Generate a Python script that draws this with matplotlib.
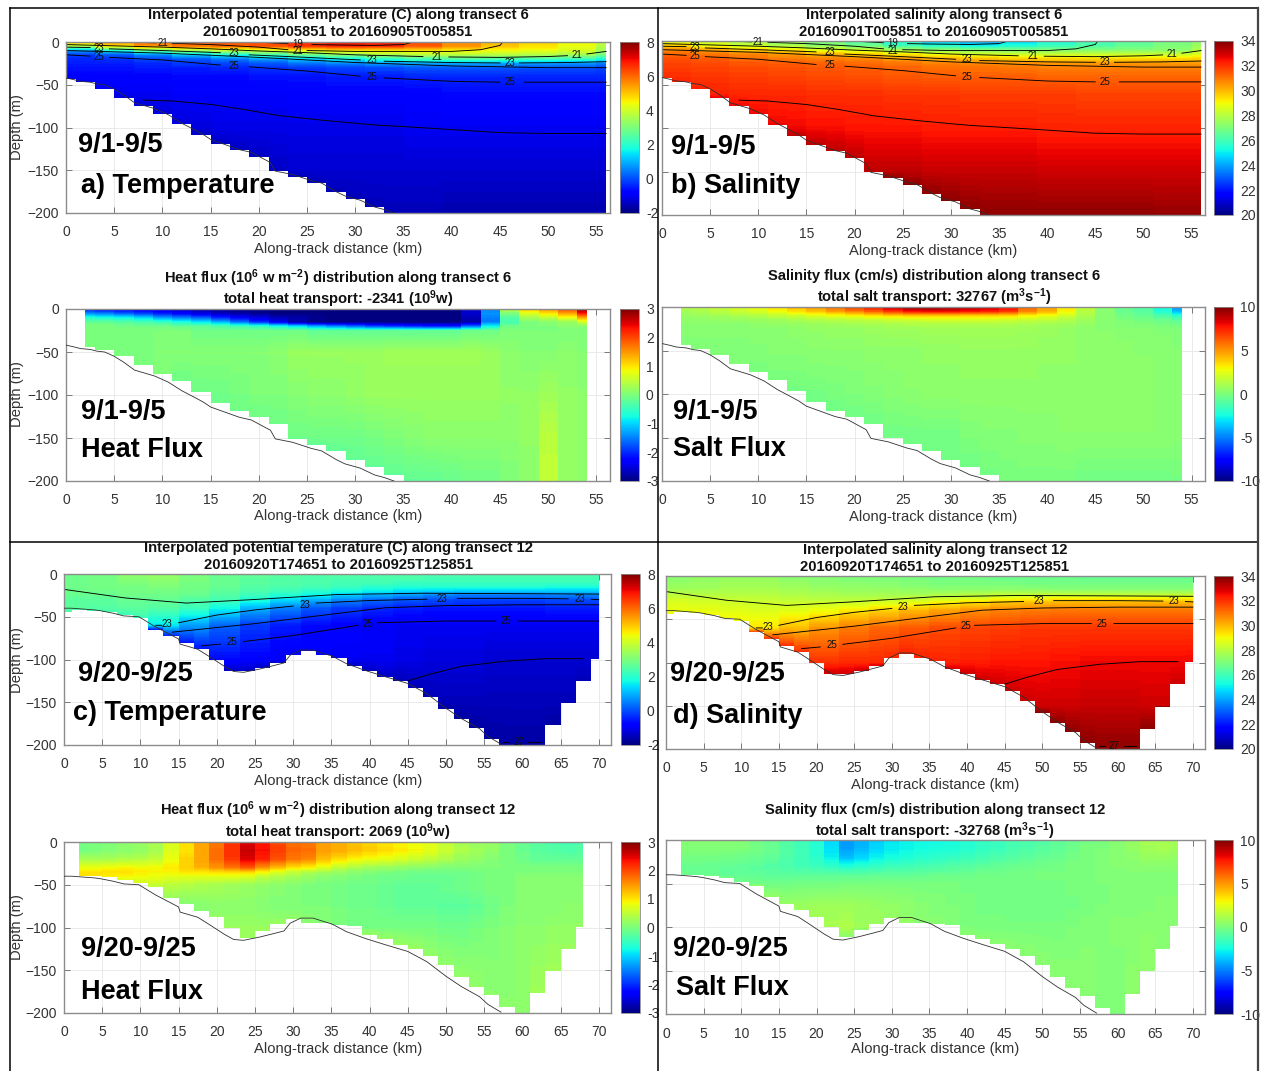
# -*- coding:utf-8 -*-
import numpy as np
import matplotlib
matplotlib.use('Agg')
import matplotlib.pyplot as plt
from matplotlib.lines import Line2D
from matplotlib.cm import ScalarMappable
from matplotlib.colors import Normalize

W, H = 1265, 1071
plt.rcParams['font.family'] = ['Liberation Sans', 'DejaVu Sans']
plt.rcParams['mathtext.default'] = 'regular'
nan = float('nan')

# 深度节点 (m)
z_ts = [0, 5, 10, 15, 20, 25, 30, 40, 60, 100, 150, 200]
z_hf6 = [0, 5, 10, 15, 20, 25, 50, 100, 150, 200]
z_hf12 = [0, 10, 20, 30, 35, 40, 50, 75, 100, 200]

# 各列底部深度
bottom_ts6 = [43, 47, 55, 65, 75, 84, 96, 109, 119, 126, 134, 151, 158, 165, 176, 184, 193,
              200, 200, 200, 200, 200, 200, 200, 200, 200, 200, 200, 200]
bottom_fx6 = [44, 48, 55, 65, 75, 84, 96, 109, 119, 126, 134, 151, 158, 165, 176, 184, 193,
              200, 200, 200, 200, 200, 200, 200, 200, 200, 200]
bottom_ts12 = [44, 42, 43, 45, 48, 52, 65, 73, 81, 88, 100, 113, 113, 110, 104, 95, 90, 95, 98,
               108, 113, 120, 125, 133, 144, 158, 170, 180, 193, 200, 200, 200, 177, 151, 125, 99]
bottom_fx12 = [40, 40, 41, 44, 48, 53, 65, 73, 81, 88, 100, 112, 104, 96, 90, 95, 95, 97, 98,
               109, 114, 120, 125, 133, 144, 158, 170, 179, 193, 200, 177, 151, 125, 99]

# 温度 transect 6, 每4 km一列
temp6 = [
    [5.2, 5.6, 6.0, 6.1, 6.2, 6.3, 6.6, 6.9, 6.9, 6.3, 5.6, 5.1, 4.8, 4.4, 3.8],
    [3.5, 4.6, 5.4, 5.8, 6.0, 6.2, 6.5, 6.7, 6.6, 6.1, 5.5, 5.0, 4.7, 4.3, 3.7],
    [0.8, 1.8, 2.8, 3.4, 3.8, 4.0, 4.4, 4.6, 4.6, 4.6, 4.5, 4.4, 4.3, 4.1, 3.4],
    [-0.2, 0.1, 0.6, 1.2, 1.8, 2.3, 2.8, 3.2, 3.5, 3.7, 3.7, 3.7, 3.6, 3.5, 2.9],
    [-0.4, -0.3, -0.1, 0.1, 0.4, 0.8, 1.2, 1.6, 2.0, 2.3, 2.5, 2.4, 2.3, 2.2, 1.8],
    [-0.5, -0.5, -0.4, -0.2, -0.1, 0.1, 0.4, 0.6, 0.8, 0.9, 0.9, 0.9, 0.8, 0.7, 0.5],
    [-0.6, -0.6, -0.5, -0.5, -0.4, -0.3, -0.2, -0.1, 0.0, 0.1, 0.1, 0.1, 0.0, 0.0, -0.1],
    [-0.8, -0.8, -0.8, -0.7, -0.7, -0.6, -0.6, -0.5, -0.5, -0.4, -0.4, -0.4, -0.4, -0.4, -0.4],
    [-1.0, -1.0, -1.0, -0.9, -0.9, -0.9, -0.8, -0.8, -0.8, -0.8, -0.7, -0.7, -0.7, -0.7, -0.7],
    [-1.2, -1.2, -1.2, -1.2, -1.1, -1.1, -1.1, -1.1, -1.1, -1.0, -1.0, -1.0, -1.0, -1.0, -1.0],
    [-1.4, -1.4, -1.4, -1.4, -1.4, -1.4, -1.3, -1.3, -1.3, -1.3, -1.3, -1.3, -1.3, -1.3, -1.3],
    [-1.5, -1.5, -1.5, -1.5, -1.5, -1.5, -1.5, -1.5, -1.5, -1.5, -1.6, -1.6, -1.6, -1.6, -1.6],
]
# 盐度 transect 6
salt6 = [
    [28.5, 28.2, 27.8, 27.4, 26.8, 26.3, 25.4, 24.2, 23.8, 24.6, 25.4, 26.0, 26.4, 26.8, 27.3],
    [29.5, 28.8, 28.2, 27.8, 27.2, 26.7, 25.9, 25.5, 25.0, 25.4, 25.8, 26.2, 26.6, 27.0, 27.5],
    [30.6, 30.2, 29.6, 29.2, 28.6, 28.2, 27.6, 27.2, 27.0, 26.9, 27.0, 27.0, 27.1, 27.2, 27.8],
    [31.2, 31.0, 30.7, 30.4, 30.0, 29.6, 29.2, 28.8, 28.5, 28.3, 28.2, 28.2, 28.2, 28.2, 28.6],
    [31.5, 31.3, 31.1, 30.9, 30.8, 30.6, 30.3, 30.0, 29.8, 29.6, 29.5, 29.4, 29.4, 29.4, 29.5],
    [31.7, 31.6, 31.4, 31.3, 31.2, 31.1, 30.9, 30.7, 30.6, 30.5, 30.4, 30.4, 30.4, 30.4, 30.4],
    [31.8, 31.7, 31.6, 31.5, 31.4, 31.3, 31.2, 31.1, 31.0, 30.9, 30.8, 30.8, 30.8, 30.8, 30.8],
    [32.0, 31.9, 31.8, 31.7, 31.6, 31.5, 31.4, 31.3, 31.3, 31.3, 31.2, 31.2, 31.2, 31.2, 31.2],
    [32.2, 32.2, 32.1, 32.1, 32.0, 32.0, 31.9, 31.9, 31.8, 31.8, 31.8, 31.7, 31.7, 31.7, 31.7],
    [32.6, 32.6, 32.6, 32.6, 32.5, 32.4, 32.4, 32.3, 32.3, 32.3, 32.2, 32.2, 32.2, 32.2, 32.2],
    [33.2, 33.2, 33.2, 33.2, 33.2, 33.2, 33.2, 33.1, 33.1, 33.1, 33.0, 33.0, 33.0, 33.0, 33.0],
    [33.8, 33.8, 33.8, 33.8, 33.8, 33.8, 33.8, 33.8, 33.8, 33.8, 33.8, 33.8, 33.8, 33.7, 33.7],
]
# 温度 transect 12
temp12 = [
    [2.8, 2.9, 3.2, 3.3, 3.0, 2.8, 2.7, 2.6, 2.5, 2.5, 2.4, 2.4, 2.4, 2.4, 2.4, 2.4, 2.4, 2.4],
    [2.8, 2.9, 3.1, 3.2, 3.0, 2.7, 2.6, 2.5, 2.4, 2.4, 2.4, 2.4, 2.3, 2.3, 2.3, 2.3, 2.3, 2.3],
    [2.8, 2.9, 3.0, 3.1, 2.9, 2.7, 2.6, 2.5, 2.4, 2.3, 2.3, 2.2, 2.2, 2.2, 2.2, 2.2, 2.2, 2.2],
    [2.8, 2.9, 2.9, 3.0, 2.9, 2.7, 2.5, 2.4, 2.3, 2.2, 2.0, 1.9, 1.9, 1.9, 1.9, 1.9, 1.8, 1.8],
    [2.8, 2.8, 2.9, 2.9, 2.8, 2.6, 2.4, 2.2, 2.0, 1.8, 1.6, 1.4, 1.3, 1.2, 1.2, 1.2, 1.2, 1.2],
    [2.7, 2.7, 2.8, 2.8, 2.7, 2.5, 2.2, 1.9, 1.6, 1.2, 0.9, 0.7, 0.5, 0.4, 0.4, 0.4, 0.5, 0.5],
    [2.6, 2.6, 2.7, 2.7, 2.5, 2.3, 1.9, 1.4, 1.0, 0.6, 0.3, 0.1, 0.0, -0.1, -0.1, -0.1, 0.0, 0.0],
    [2.6, 2.5, 2.6, 2.5, 2.2, 1.7, 1.0, 0.5, 0.1, -0.2, -0.4, -0.5, -0.6, -0.6, -0.6, -0.6, -0.5, -0.5],
    [2.4, 2.3, 2.2, 1.5, 0.8, 0.2, -0.2, -0.5, -0.7, -0.8, -0.9, -1.0, -1.0, -1.0, -1.0, -1.0, -1.0, -1.0],
    [-0.3, -0.3, -0.4, -0.5, -0.6, -0.7, -0.8, -0.9, -0.9, -1.0, -1.0, -1.1, -1.2, -1.2, -1.3, -1.3, -1.3, -1.3],
    [-1.4, -1.4, -1.4, -1.4, -1.4, -1.4, -1.4, -1.4, -1.4, -1.4, -1.4, -1.5, -1.5, -1.5, -1.5, -1.5, -1.5, -1.5],
    [-1.7, -1.7, -1.7, -1.7, -1.7, -1.7, -1.7, -1.7, -1.7, -1.7, -1.7, -1.7, -1.7, -1.7, -1.7, -1.7, -1.7, -1.7],
]
# 盐度 transect 12
salt12 = [
    [27.2, 27.3, 27.4, 27.4, 27.2, 27.1, 27.0, 27.0, 26.9, 26.8, 26.8, 26.7, 26.7, 26.6, 26.6, 26.6, 26.6, 26.6],
    [27.3, 27.4, 27.5, 27.5, 27.3, 27.2, 27.1, 27.1, 27.0, 26.9, 26.9, 26.8, 26.8, 26.8, 26.7, 26.7, 26.7, 26.7],
    [27.4, 27.5, 27.6, 27.6, 27.5, 27.3, 27.3, 27.2, 27.1, 27.0, 27.0, 27.0, 26.9, 26.9, 26.9, 26.9, 26.9, 26.9],
    [27.6, 27.6, 27.7, 27.7, 27.6, 27.5, 27.4, 27.4, 27.3, 27.2, 27.2, 27.2, 27.2, 27.1, 27.1, 27.1, 27.1, 27.1],
    [27.9, 27.9, 27.9, 27.9, 27.8, 27.7, 27.6, 27.6, 27.6, 27.7, 27.8, 27.9, 27.9, 27.9, 27.9, 27.9, 27.9, 27.9],
    [28.3, 28.2, 28.1, 28.1, 28.0, 27.9, 27.9, 27.9, 28.0, 28.2, 28.4, 28.7, 28.8, 28.9, 28.9, 28.9, 28.9, 28.9],
    [28.6, 28.5, 28.4, 28.3, 28.3, 28.3, 28.3, 28.5, 28.7, 29.0, 29.3, 29.7, 29.8, 29.9, 29.9, 29.9, 29.9, 29.9],
    [28.8, 28.8, 28.7, 28.6, 28.7, 28.9, 29.3, 29.6, 30.0, 30.3, 30.6, 30.8, 30.9, 31.0, 31.0, 31.0, 31.0, 31.0],
    [29.0, 29.0, 29.0, 29.3, 29.9, 30.5, 30.9, 31.2, 31.4, 31.6, 31.7, 31.8, 31.9, 31.9, 31.9, 31.9, 31.9, 31.9],
    [31.9, 31.9, 31.9, 31.9, 32.0, 32.0, 32.1, 32.1, 32.2, 32.2, 32.3, 32.4, 32.4, 32.5, 32.6, 32.6, 32.6, 32.6],
    [33.0, 33.0, 33.0, 33.0, 33.0, 33.0, 33.0, 33.0, 33.0, 33.0, 33.0, 33.0, 33.0, 33.0, 33.1, 33.1, 33.0, 33.0],
    [33.8, 33.8, 33.8, 33.8, 33.8, 33.8, 33.8, 33.8, 33.8, 33.8, 33.8, 33.8, 33.8, 33.8, 33.8, 33.8, 33.8, 33.8],
]
# 热通量 transect 6, 每2 km一列
heat6 = [
    [-2.2, -2.3, -2.4, -2.5, -2.6, -2.7, -2.8, -2.9, -3, -3, -3, -3, -3, -3, -3, -3, -3, -3, -3, -3, -2.6, -1.5, 0.5, 1.2, 1.5, 2.0, 2.9],
    [-1.4, -1.5, -1.7, -1.9, -2.1, -2.3, -2.5, -2.7, -2.8, -2.9, -3, -3, -3, -3, -3, -3, -3, -3, -3, -3, -2.6, -1.4, 0.0, 0.7, 1.0, 1.4, 2.3],
    [-0.6, -0.7, -0.8, -1.0, -1.3, -1.5, -1.7, -2.0, -2.3, -2.5, -2.7, -2.8, -2.9, -3, -3, -3, -3, -3, -3, -3, -2.7, -1.5, -0.3, 0.3, 0.5, 0.8, 1.4],
    [-0.2, -0.2, -0.3, -0.4, -0.5, -0.7, -0.9, -1.2, -1.6, -2.0, -2.4, -2.8, -3, -3, -3, -3, -3, -3, -3, -3, -2.8, -1.5, -0.4, 0.0, 0.1, 0.2, 0.6],
    [0.0, 0.0, -0.1, -0.1, -0.1, -0.2, -0.2, -0.3, -0.4, -0.5, -0.7, -0.9, -1.2, -1.4, -1.6, -1.8, -1.9, -2.0, -2.1, -2.1, -1.6, -0.8, -0.1, 0.0, 0.0, 0.1, 0.1],
    [0.0, 0.0, 0.0, 0.0, 0.0, 0.0, -0.1, -0.1, -0.1, -0.1, -0.1, -0.1, -0.2, -0.2, -0.2, -0.2, -0.2, -0.2, -0.2, -0.2, -0.1, -0.1, 0.0, 0.0, 0.0, 0.0, 0.0],
    [0.0, 0.0, 0.0, 0.0, 0.05, 0.05, 0.05, 0.05, 0.05, 0.05, 0.1, 0.2, 0.2, 0.2, 0.2, 0.2, 0.25, 0.25, 0.25, 0.25, 0.25, 0.2, 0.1, 0.05, 0.05, 0.1, 0.05],
    [0.0, 0.0, 0.0, 0.0, 0.0, -0.1, -0.1, -0.1, -0.05, 0.0, 0.0, 0.05, 0.1, 0.1, 0.15, 0.2, 0.2, 0.2, 0.2, 0.2, 0.2, 0.2, 0.15, 0.15, 0.25, 0.15, 0.1],
    [-0.1, -0.1, -0.1, -0.1, -0.1, -0.1, -0.1, -0.1, -0.1, -0.1, -0.1, -0.1, -0.1, -0.1, -0.1, -0.05, 0.0, 0.05, 0.1, 0.1, 0.1, 0.1, 0.1, 0.15, 0.45, 0.15, 0.1],
    [-0.2, -0.2, -0.2, -0.2, -0.2, -0.2, -0.2, -0.2, -0.2, -0.2, -0.2, -0.2, -0.2, -0.2, -0.2, -0.2, -0.2, -0.2, -0.2, -0.15, -0.1, -0.1, 0.0, 0.1, 0.5, 0.15, 0.1],
]
# 盐通量 transect 6
flux6 = [
    [1.2, 1.4, 1.8, 2.2, 2.8, 3.4, 4.2, 5, 6, 7, 8, 9, 9.8, 9.9, 9.6, 9.2, 8.8, 8.2, 6.0, 4.8, 3.2, 1.5, 0.3, -0.6, -1.0, -2.6, -4.5],
    [0.9, 1.1, 1.4, 1.8, 2.2, 2.8, 3.4, 4, 4.8, 5.5, 6.2, 7, 7.8, 8, 8, 7.8, 7.5, 7, 5.5, 4.4, 3, 1.4, 0.3, -0.5, -0.9, -2.2, -3.8],
    [0.6, 0.7, 0.9, 1.1, 1.3, 1.6, 1.9, 2.3, 2.6, 2.9, 3.3, 3.6, 3.8, 3.8, 3.8, 3.7, 3.6, 3.5, 3.0, 2.6, 2.0, 1.1, 0.3, -0.3, -0.6, -1.2, -2],
    [0.4, 0.4, 0.5, 0.6, 0.7, 0.8, 1, 1.2, 1.4, 1.5, 1.6, 1.8, 1.9, 2, 2, 2, 2, 1.9, 1.8, 1.6, 1.3, 0.8, 0.3, 0, -0.2, -0.5, -0.8],
    [0.3, 0.3, 0.3, 0.3, 0.4, 0.5, 0.6, 0.7, 0.8, 0.9, 1, 1.1, 1.2, 1.2, 1.2, 1.2, 1.2, 1.1, 1, 0.9, 0.8, 0.5, 0.2, 0.1, 0, -0.1, -0.3],
    [0.2, 0.2, 0.2, 0.2, 0.3, 0.3, 0.4, 0.5, 0.6, 0.6, 0.7, 0.8, 0.8, 0.9, 0.9, 0.9, 0.9, 0.9, 0.8, 0.7, 0.6, 0.4, 0.3, 0.2, 0.2, 0.1, 0],
    [0.1, 0.1, 0.1, 0.1, 0.1, 0.2, 0.2, 0.3, 0.3, 0.3, 0.4, 0.4, 0.4, 0.5, 0.5, 0.6, 0.6, 0.6, 0.6, 0.5, 0.5, 0.4, 0.4, 0.4, 0.3, 0.3, 0.2],
    [0, 0, 0, 0, -0.1, -0.1, -0.2, -0.2, -0.1, 0, 0.1, 0.2, 0.3, 0.4, 0.4, 0.4, 0.4, 0.4, 0.4, 0.4, 0.4, 0.4, 0.4, 0.4, 0.4, 0.3, 0.3],
    [-0.3, -0.3, -0.3, -0.3, -0.3, -0.3, -0.3, -0.3, -0.3, -0.3, -0.3, -0.3, -0.3, -0.3, -0.3, 0, 0.1, 0.1, 0.2, 0.2, 0.3, 0.3, 0.3, 0.3, 0.3, 0.3, 0.2],
    [-0.3, -0.3, -0.3, -0.3, -0.3, -0.3, -0.3, -0.3, -0.3, -0.3, -0.3, -0.3, -0.3, -0.3, -0.3, -0.3, -0.2, -0.1, -0.1, -0.1, -0.1, -0.3, -0.3, -0.3, -0.3, -0.3, -0.2],
]
# 热通量 transect 12
heat12 = [
    [-.1, 0, 0, .1, .15, .3, .7, 1, 1.4, 1.7, 2.1, 2.5, 2.3, 2, 1.75, 1.7, 1.4, 1.3, 1.2, 1.1, 1, .9, .8, .7, .5, .3, .2, .15, 0, -.15, -.25, -.35, -.4, -.35],
    [-.05, 0, .05, .1, .15, .3, .7, 1, 1.4, 1.75, 2.15, 2.6, 2.35, 2.05, 1.8, 1.75, 1.45, 1.35, 1.25, 1.15, 1.05, .95, .85, .75, .55, .35, .25, .15, 0, -.15, -.25, -.3, -.35, -.3],
    [.3, .3, .3, .35, .4, .5, .8, 1.1, 1.4, 1.75, 2.1, 2.5, 2.25, 1.95, 1.7, 1.6, 1.25, 1.05, .9, .8, .75, .65, .55, .45, .35, .2, .15, .05, 0, -.1, -.2, -.2, -.2, -.2],
    [.8, .8, .85, .9, .85, .85, .95, 1.1, 1.3, 1.5, 1.7, 1.9, 1.5, 1.25, 1, .9, .7, .5, .35, .25, .2, .15, .1, .05, 0, 0, 0, 0, 0, 0, 0, 0, 0, 0],
    [1, 1, 1, 1, .95, .9, .9, 1, 1, 1.05, 1.1, 1.1, .9, .7, .5, .4, .3, .2, .1, .05, 0, -.05, -.1, -.1, -.1, -.1, -.05, 0, 0, 0, 0, 0, 0, 0],
    [1, 1, .95, .9, .85, .8, .75, .75, .75, .75, .75, .7, .5, .4, .3, .2, .1, .05, 0, -.05, -.1, -.1, -.15, -.15, -.15, -.1, -.05, 0, 0, .05, .05, .05, .05, .05],
    [.8, .8, .8, .7, .6, .55, .45, .4, .35, .3, .25, .2, .15, .1, .05, 0, -.05, -.05, -.1, -.1, -.15, -.2, -.2, -.2, -.15, -.1, -.05, 0, 0, .05, .05, .05, .05, .05],
    [.5, .5, .5, .5, .5, .4, .2, .05, .05, .1, .1, .1, .05, 0, 0, 0, 0, -.05, -.1, -.1, -.15, -.2, -.2, -.2, -.25, -.25, -.2, -.1, 0, .05, .05, .05, .1, .1],
    [.3, .3, .3, .3, .3, .3, .2, .1, .1, .15, .2, .2, .2, .2, .15, .1, .05, 0, -.05, -.05, -.05, -.05, -.05, -.05, -.1, -.1, -.05, 0, .05, .1, .1, .15, .15, .15],
    [.2, .2, .2, .2, .2, .2, .2, .2, .2, .2, .2, .2, .2, .2, .2, .2, .2, .2, .2, .2, .2, .2, .2, .15, .15, .15, .15, .1, .1, .1, .25, .25, .2, .2],
]
# 盐通量 transect 12
flux12 = [
    [.2, .2, .2, .2, .2, -.2, -.5, -1, -1.5, -2.2, -3.2, -4.5, -4, -3.5, -3, -2.8, -2.6, -2.6, -2.4, -2.2, -1.9, -1.7, -1.4, -1.2, -1, -.8, -.5, -.2, 0, .3, .5, 1, 1.1, .9],
    [.1, .1, .1, .05, 0, -.2, -.5, -1, -1.5, -2.1, -3.1, -4.4, -3.9, -3.3, -2.9, -2.7, -2.5, -2.4, -2.3, -2.1, -1.8, -1.6, -1.3, -1.1, -.9, -.7, -.4, -.1, 0, .3, .5, .9, 1, .8],
    [-.2, -.2, -.2, -.3, -.4, -.5, -.7, -1.1, -1.5, -2, -2.8, -3.8, -3.3, -2.8, -2.5, -2.3, -2.1, -1.9, -1.8, -1.6, -1.4, -1.2, -1, -.8, -.6, -.5, -.2, 0, .1, .3, .4, .6, .6, .5],
    [-.5, -.5, -.6, -.6, -.7, -.8, -1, -1.2, -1.4, -1.6, -1.9, -2.3, -2, -1.8, -1.6, -1.5, -1.3, -1.2, -1, -.9, -.8, -.6, -.5, -.4, -.3, -.2, -.1, 0, .1, .2, .2, .3, .3, .3],
    [-.5, -.5, -.6, -.7, -.7, -.8, -.9, -1, -1.1, -1.2, -1.3, -1.5, -1.4, -1.3, -1.1, -1.1, -1, -.9, -.8, -.7, -.5, -.5, -.4, -.3, -.2, -.2, -.1, 0, .1, .1, .2, .2, .2, .2],
    [-.4, -.5, -.6, -.7, -.7, -.7, -.8, -.8, -.8, -.8, -.8, -.8, -.8, -.7, -.7, -.7, -.6, -.5, -.5, -.4, -.3, -.3, -.2, -.2, -.1, -.1, -.1, 0, .1, .1, .1, .1, .1, .1],
    [-.1, -.1, -.1, -.2, -.3, -.3, -.3, -.3, -.2, -.2, -.2, -.1, -.1, -.1, -.1, -.1, -.1, -.1, -.1, -.2, -.2, -.2, -.2, -.2, -.2, -.2, -.1, -.1, 0, 0, .1, .1, .1, .1],
    [.3, .3, .3, .4, .4, .5, .5, .6, .7, .8, .8, .8, .7, .6, .5, .4, .2, .1, 0, -.1, -.2, -.2, -.3, -.3, -.3, -.3, -.2, -.1, 0, .1, .1, .1, .2, .2],
    [.5, .5, .5, .5, .5, .5, .5, .6, .7, .9, 1, 1.2, .8, .7, .6, .5, .3, .2, .1, 0, -.1, -.1, -.1, -.1, -.1, -.1, 0, .1, .1, .2, .2, .3, .3, .3],
    [.3, .3, .3, .3, .3, .3, .3, .3, .3, .3, .3, .3, .3, .3, .3, .3, .3, .3, .3, .3, .3, .3, .3, .3, .3, .3, .3, .3, 0, 0, .4, .4, .3, .3],
]

# 海底地形
bathy6_x = [0, 0.8, 1.5, 2.5, 3.2, 4, 5, 6, 7.1, 8, 9.2, 10.6, 12, 13.2, 14.2, 15, 16.5, 18, 19.2, 20.2, 21.2, 21.7, 23.5, 25.4, 26.5, 28, 28.9, 30.5, 32, 33, 34]
bathy6_y = [-42, -44, -46, -47, -49, -50, -55, -62, -71, -74, -78, -85, -95, -102, -108, -114, -120, -126, -129, -135, -141, -151, -155, -162, -165, -175, -180, -185, -193, -196, -200]
bathy12_x = [0, 1, 2.5, 4, 4.8, 6.5, 7.8, 9.8, 12, 15, 15.2, 17.5, 19.1, 21, 22.2, 23.5, 25.7, 27.5, 28.8, 29.6, 31, 32.6, 34, 35.1, 37, 39.5, 42, 45, 47.5, 50, 52, 54.4, 55.5, 57.2]
bathy12_y = [-40, -40, -41, -42, -43, -46, -49, -50, -62, -76, -82, -88, -97, -108, -114, -115, -111, -107, -104, -95, -89, -89, -93, -96, -105, -113, -120, -128, -140, -157, -169, -181, -190, -199]

# 等密度线, 每段 x 与 y
iso6_x = [[20.5, 23, nan, 25.5, 28, 32, 35, 36],
          [8, 9.3, nan, 11, 15, 20, 23, nan, 25, 30, 35, 40, 43, 45, 45.2],
          [0, 5, 10, 15, 20, 25, 30, 37, nan, 39.7, 45, 50, 52, nan, 54, 56],
          [0, 2.5, nan, 4.5, 10, 16, nan, 19, 25, 30.5, nan, 33, 40, 45, nan, 47, 52, 56],
          [0, 10, 20, 30, 40, 50, 56],
          [0, 2.5, nan, 4.5, 10, 16, nan, 19, 25, 30.5, nan, 33, 40, 45, nan, 47.5, 52, 56],
          [8, 11, 15, 18.5, 22, 27, 32, 38, 45, 50, 56]]
iso6_y = [[-0.5, -2, nan, -3, -3.5, -4, -3, 0],
          [-0.5, -1, nan, -1.5, -3, -6, -9, nan, -10, -11, -11, -11, -9, -4, -1],
          [-3, -4.5, -6, -8, -10.5, -12.5, -15, -17, nan, -17.5, -18, -17, -16, nan, -14, -11],
          [-6, -6.5, nan, -8, -10, -12.5, nan, -15, -18, -21, nan, -22.5, -24, -24.5, nan, -24.5, -24, -23],
          [-10, -13, -18, -24, -28, -30, -30],
          [-15, -16.5, nan, -18, -21, -27, nan, -29, -34, -40, nan, -42, -46, -47, nan, -47, -47, -47],
          [-68, -69, -73, -79, -86, -92, -97, -101, -106, -107, -107]]
iso6_labels = [(10, -1.5, '21'), (24, -2, '19'), (24, -11, '21'), (38.5, -17.5, '21'), (53, -15, '21'),
               (3.4, -7, '23'), (17.4, -13, '23'), (31.7, -21, '23'), (46, -24.5, '23'),
               (3.4, -17, '25'), (17.4, -28, '25'), (31.7, -41, '25'), (46, -47, '25')]

iso12_x = [[0, 8, 16, 24.6, 35.7, 46.7, 60, 70],
           [12, 12.8, nan, 15, 20, 25, 30, nan, 33, 40, 47.5, nan, 51.5, 60, 66, nan, 69, 70],
           [14.2, 25, 35, 42, 50, 60, 70],
           [18, 20.5, nan, 23.5, 30, 38.5, nan, 41, 50, 56.5, nan, 59.5, 65, 70],
           [45, 48, 52, 57.7, 63, 68],
           [57.5, 58.3, nan, 60.8, 62.5]]
iso12_y = [[-18, -28, -34, -30, -24, -22.5, -23, -23.5],
           [-60, -60, nan, -57, -48, -42, -37.5, nan, -34, -31, -29.5, nan, -28.5, -28.5, -29, nan, -29.5, -30],
           [-68, -58, -47, -39.5, -37, -36, -36],
           [-84, -82, nan, -79, -72, -60, nan, -57, -55, -55, nan, -55, -55, -55],
           [-125, -117, -108, -102, -99, -99],
           [-197, -197, nan, -197, -197]]
iso12_labels = [(13.5, -59, '23'), (31.5, -36, '23'), (49.5, -29, '23'), (67.5, -29, '23'),
                (22, -80, '25'), (39.8, -58, '25'), (57.9, -55, '25'), (59.5, -197, '27')]

ticks_temp = [-2, 0, 2, 4, 6, 8]
ticks_salt = [20, 22, 24, 26, 28, 30, 32, 34]
ticks_heat = [-3, -2, -1, 0, 1, 2, 3]
ticks_flux = [-10, -5, 0, 5, 10]

fig = plt.figure(figsize=(W / 100, H / 100), dpi=100)


def px_ax(l, r, t, b):
    return fig.add_axes([l / W, 1 - b / H, (r - l) / W, (b - t) / H])


def put(x, y, s, **kw):
    kw.setdefault('ha', 'center')
    kw.setdefault('va', 'center')
    fig.text(x / W, 1 - y / H, s, **kw)


def panel(box, cx, z, table, step, edges, bottom, vmin, vmax, ticks, bathy, xmax, xticks, ylab):
    ax = px_ax(*box)
    z = np.array(z, dtype=float)
    table = np.array(table, dtype=float)
    levels = np.linspace(vmin, vmax, 129)
    # 每一列单独画, 竖直方向按数值平滑, 列之间是硬边
    for i in range(len(bottom)):
        keep = z < bottom[i]
        d = np.append(z[keep], bottom[i])
        v = table[:len(d), i // step]
        ax.contourf([edges[i], edges[i + 1]], -d, np.column_stack([v, v]), levels=levels, cmap='jet',
                    vmin=vmin, vmax=vmax, extend='both', antialiased=False, zorder=1)
    ax.plot(bathy[0], bathy[1], color='#303030', lw=0.6, zorder=3)
    ax.set_xlim(0, xmax)
    ax.set_ylim(-200, 0)
    ax.set_xticks(xticks)
    ax.set_yticks([0, -50, -100, -150, -200])
    if not ylab:
        ax.set_yticklabels([])
    ax.grid(True, color='#e6e6e6', lw=0.6)
    ax.set_axisbelow(True)
    ax.tick_params(direction='in', length=4, width=0.6, color='#666666', labelsize=10,
                   labelcolor='#333333', top=True, right=True)
    ax.tick_params(axis='x', pad=9)
    ax.tick_params(axis='y', pad=5)
    for s in ax.spines.values():
        s.set_color('#8c8c8c')
        s.set_linewidth(1.0)
    cax = px_ax(cx, cx + 19, box[2], box[3])
    cb = fig.colorbar(ScalarMappable(Normalize(vmin, vmax), 'jet'), cax=cax, ticks=ticks)
    cb.ax.tick_params(length=0, labelsize=10, labelcolor='#333333', pad=5)
    cb.ax.set_yticklabels([str(t) for t in ticks])
    cb.outline.set_edgecolor('#8c8c8c')
    cb.outline.set_linewidth(0.6)
    return ax


def isolines(ax, xs, ys, labels):
    for x, y in zip(xs, ys):
        ax.plot(x, y, color='black', lw=0.65, zorder=2)
    for x, y, s in labels:
        ax.text(x, y, s, fontsize=7, ha='center', va='center', color='#111111', zorder=4)


def heading(x, y1, y2, a, b, size=10.6):
    put(x, y1, a, fontsize=size, fontweight='bold', color='#111111')
    put(x, y2, b, fontsize=size, fontweight='bold', color='#111111')


def big(x, y, s):
    put(x, y + 2, s, fontsize=19.5, fontweight='bold', ha='left', color='black')


edges_ts6 = [0] + list(range(1, 57, 2)) + [56]
edges_fx6 = [2] + list(range(3, 55, 2)) + [54]
edges_ts12 = [0] + list(range(1, 71, 2)) + [70]
edges_fx12 = [2] + list(range(3, 69, 2)) + [68]
xt6 = list(range(0, 60, 5))
xt12 = list(range(0, 75, 5))
xmax6 = 56.4
xmax12 = 71.6

ax = panel((66, 610, 42, 213), 620, z_ts, temp6, 2, edges_ts6, bottom_ts6, -2, 8, ticks_temp,
           (bathy6_x, bathy6_y), xmax6, xt6, True)
isolines(ax, iso6_x, iso6_y, iso6_labels)
ax = panel((662, 1205, 41, 215), 1214, z_ts, salt6, 2, edges_ts6, bottom_ts6, 20, 34, ticks_salt,
           (bathy6_x, bathy6_y), xmax6, xt6, False)
isolines(ax, iso6_x, iso6_y, iso6_labels)
panel((66, 610, 309, 481), 620, z_hf6, heat6, 1, edges_fx6, bottom_fx6, -3, 3, ticks_heat,
      (bathy6_x, bathy6_y), xmax6, xt6, True)
panel((662, 1205, 307, 481), 1214, z_hf6, flux6, 1, edges_fx6, bottom_fx6, -10, 10, ticks_flux,
      (bathy6_x, bathy6_y), xmax6, xt6, False)
ax = panel((64, 611, 574, 745), 621, z_ts, temp12, 2, edges_ts12, bottom_ts12, -2, 8, ticks_temp,
           (bathy12_x, bathy12_y), xmax12, xt12, True)
isolines(ax, iso12_x, iso12_y, iso12_labels)
ax = panel((666, 1205, 576, 749), 1214, z_ts, salt12, 2, edges_ts12, bottom_ts12, 20, 34, ticks_salt,
           (bathy12_x, bathy12_y), xmax12, xt12, False)
isolines(ax, iso12_x, iso12_y, iso12_labels)
panel((64, 611, 842, 1013), 621, z_hf12, heat12, 1, edges_fx12, bottom_fx12, -3, 3, ticks_heat,
      (bathy12_x, bathy12_y), xmax12, xt12, True)
panel((666, 1205, 840, 1014), 1214, z_hf12, flux12, 1, edges_fx12, bottom_fx12, -10, 10, ticks_flux,
      (bathy12_x, bathy12_y), xmax12, xt12, False)

# 标题
heading(338, 15, 32, 'Interpolated potential temperature (C) along transect 6', '20160901T005851 to 20160905T005851')
heading(934, 15, 32, 'Interpolated salinity along transect 6', '20160901T005851 to 20160905T005851')
heading(338, 278, 299, 'Heat flux (10$^{6}$ w m$^{-2}$) distribution along transect 6', 'total heat transport: -2341 (10$^{9}$w)')
heading(934, 276, 297, 'Salinity flux (cm/s) distribution along transect 6', 'total salt transport: 32767 (m$^{3}$s$^{-1}$)')
heading(338, 548, 565, 'Interpolated potential temperature (C) along transect 12', '20160920T174651 to 20160925T125851')
heading(935, 550, 567, 'Interpolated salinity along transect 12', '20160920T174651 to 20160925T125851')
heading(338, 810, 832, 'Heat flux (10$^{6}$ w m$^{-2}$) distribution along transect 12', 'total heat transport: 2069 (10$^{9}$w)')
heading(935, 810, 831, 'Salinity flux (cm/s) distribution along transect 12', 'total salt transport: -32768 (m$^{3}$s$^{-1}$)')

# 坐标轴标题
for x, y in [(338, 249), (933, 251), (338, 516), (933, 517), (338, 781), (935, 785), (338, 1049), (935, 1049)]:
    put(x, y, 'Along-track distance (km)', fontsize=10.6, color='#333333')
for y in [127, 394, 660, 927]:
    put(17, y, 'Depth (m)', fontsize=10.6, color='#333333', rotation=90)

# 粗体注释
big(78, 143, '9/1-9/5')
big(81, 184, 'a) Temperature')
big(671, 145, '9/1-9/5')
big(671, 184, 'b) Salinity')
big(81, 410, '9/1-9/5')
big(81, 448, 'Heat Flux')
big(673, 410, '9/1-9/5')
big(673, 447, 'Salt Flux')
big(78, 672, '9/20-9/25')
big(73, 711, 'c) Temperature')
big(670, 672, '9/20-9/25')
big(673, 714, 'd) Salinity')
big(81, 947, '9/20-9/25')
big(81, 990, 'Heat Flux')
big(673, 947, '9/20-9/25')
big(676, 986, 'Salt Flux')

# 外框
for x0, y0, x1, y1 in [(10, 8, 1258, 8), (10, 8, 10, H), (658, 8, 658, H), (10, 542, 1258, 542)]:
    fig.add_artist(Line2D([x0 / W, x1 / W], [1 - y0 / H, 1 - y1 / H], color='black', lw=1.1))
fig.add_artist(Line2D([1258 / W, 1258 / W], [1 - 8 / H, 0], color='#444444', lw=1.6))

fig.savefig('out.png', dpi=100)
